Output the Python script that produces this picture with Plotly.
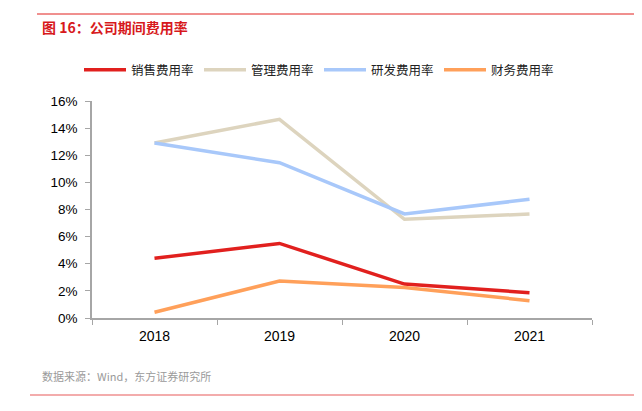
import plotly.graph_objects as go

years = ["2018", "2019", "2020", "2021"]
sales = [4.4, 5.5, 2.5, 1.87]
mgmt = [12.9, 14.65, 7.28, 7.67]
rnd = [12.9, 11.45, 7.67, 8.75]
fin = [0.42, 2.73, 2.24, 1.28]
series_names = ["销售费用率", "管理费用率", "研发费用率", "财务费用率"]
colors = ["#E1201E", "#DDD4BE", "#A8C8FA", "#FFA05A"]
yticks = [0, 2, 4, 6, 8, 10, 12, 14, 16]

FONT = "Liberation Sans, Noto Sans CJK SC, sans-serif"
CJK = "Noto Sans CJK SC, sans-serif"

fig = go.Figure()
for name, vals, c in zip(series_names, [sales, mgmt, rnd, fin], colors):
    fig.add_trace(go.Scatter(x=years, y=vals, name=name, mode="lines",
                             line=dict(color=c, width=3.5)))

OFF = 8  # page body margin
W, H = 642 - OFF, 411 - OFF
L, T = 92 - OFF, 101 - OFF
pw, ph = 500, 217
R = W - L - pw
B = H - T - ph

def px(x):
    return (x - OFF - L) / pw

def py(y):
    return (T + ph - (y - OFF)) / ph

fig.update_layout(
    width=W, height=H,
    margin=dict(l=L, r=R, t=T, b=B),
    paper_bgcolor="white", plot_bgcolor="white",
    font=dict(family=FONT, size=13, color="#000"),
    showlegend=True,
    legend=dict(orientation="h", x=px(79), y=py(70), xanchor="left", yanchor="middle",
                entrywidth=63, entrywidthmode="pixels", itemwidth=42,
                font=dict(size=12.5, family=CJK, color="#222"),
                bgcolor="rgba(0,0,0,0)"),
    xaxis=dict(type="category", range=[-0.5, 3.5], tickson="boundaries",
               showline=True, linecolor="#A6A6A6", linewidth=1.5,
               ticks="outside", ticklen=5, tickcolor="#A6A6A6",
               ticklabelstandoff=4,
               showgrid=False, zeroline=False, tickfont=dict(size=14)),
    yaxis=dict(range=[0, 16], tickvals=yticks, ticktext=[f"{v}%" for v in yticks],
               showline=True, linecolor="#A6A6A6", linewidth=1.5,
               ticks="outside", ticklen=5, tickcolor="#A6A6A6",
               ticklabelstandoff=5,
               showgrid=False, zeroline=False, tickfont=dict(size=13.5)),
    shapes=[
        dict(type="line", xref="paper", yref="paper", x0=px(37), x1=px(642), y0=py(14), y1=py(14),
             line=dict(color="#E1201E", width=1)),
        dict(type="line", xref="paper", yref="paper", x0=px(30), x1=px(642), y0=py(395), y1=py(395),
             line=dict(color="#E85A5A", width=1.2)),
    ],
    annotations=[
        dict(text="<b>图 16：公司期间费用率</b>", xref="paper", yref="paper", x=px(40), y=py(27),
             xanchor="left", yanchor="middle", showarrow=False,
             font=dict(size=14, color="#D7191C", family=CJK)),
        dict(text="数据来源：Wind，东方证券研究所", xref="paper", yref="paper", x=px(40), y=py(376),
             xanchor="left", yanchor="middle", showarrow=False,
             font=dict(size=11, color="#9A9A9A", family=CJK)),
    ],
)

fig.write_html("out.html")
